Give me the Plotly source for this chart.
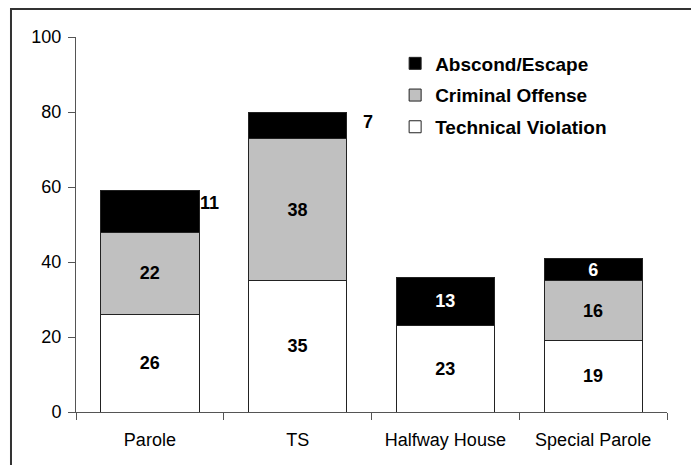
import plotly.graph_objects as go

categories = ["Parole", "TS", "Halfway House", "Special Parole"]
technical = [26, 35, 23, 19]
criminal = [22, 38, 0, 16]
abscond = [11, 7, 13, 6]
y_ticks = [0, 20, 40, 60, 80, 100]

# labels for Abscond/Escape drawn outside the bar for these categories
outside_abscond = {"Parole": (48, 8), "TS": (63, 3)}

FONT = "Liberation Sans, Arial, sans-serif"

def label_texts(vals, skip=()):
    return ["" if (v == 0 or c in skip) else f"<b>{v}</b>" for c, v in zip(categories, vals)]

fig = go.Figure()
series = [
    ("Technical Violation", technical, "#FFFFFF", "black", (), 3),
    ("Criminal Offense", criminal, "#C0C0C0", "black", (), 2),
    ("Abscond/Escape", abscond, "#000000", "white", tuple(outside_abscond.keys()), 1),
]
for name, vals, color, tcolor, skip, rank in series:
    fig.add_trace(go.Bar(
        name=name, x=categories, y=vals,
        marker=dict(color=color, line=dict(color="#222222", width=1)),
        text=label_texts(vals, skip), textposition="inside", textangle=0,
        insidetextanchor="middle", constraintext="none",
        textfont=dict(family=FONT, size=18, color=tcolor),
        legendgroup=name, legendrank=rank, width=0.665,
        hoverinfo="skip",
    ))

annotations = []
for i, c in enumerate(categories):
    if c in outside_abscond:
        xs, ys = outside_abscond[c]
        base = technical[i] + criminal[i]
        annotations.append(dict(
            x=c, y=base + abscond[i] / 2, xref="x", yref="y",
            text=f"<b>{abscond[i]}</b>", showarrow=False,
            xanchor="left", yanchor="middle", xshift=xs, yshift=ys,
            font=dict(family=FONT, size=18, color="black"),
        ))

fig.update_layout(
    width=699, height=465,
    margin=dict(l=68, r=40, t=29, b=61),
    paper_bgcolor="white", plot_bgcolor="white",
    barmode="stack", bargap=0.335,
    font=dict(family=FONT, size=18, color="black"),
    showlegend=True,
    legend=dict(
        x=0.54, y=0.98, xanchor="left", yanchor="top",
        traceorder="grouped", tracegroupgap=4,
        font=dict(family=FONT, size=19, color="black", weight="bold"),
        bgcolor="rgba(0,0,0,0)",
    ),
    annotations=annotations,
    shapes=[dict(
        type="rect", xref="paper", yref="paper",
        x0=-0.110, x1=1.044, y0=-0.3, y1=1.0747,
        line=dict(color="#333333", width=2), fillcolor="rgba(0,0,0,0)",
        layer="below",
    )],
)
fig.update_xaxes(
    type="category", range=[-0.5, 3.5], tickson="boundaries",
    ticks="outside", ticklen=7, tickcolor="#555555",
    showline=True, linecolor="#555555", linewidth=1,
    showgrid=False, zeroline=False, ticklabelstandoff=11,
    tickfont=dict(family=FONT, size=18, color="black"),
)
fig.update_yaxes(
    range=[0, 100], tickvals=y_ticks,
    ticks="outside", ticklen=7, tickcolor="#555555",
    showline=True, linecolor="#555555", linewidth=1,
    showgrid=False, zeroline=False, ticklabelstandoff=3,
    tickfont=dict(family=FONT, size=18, color="black"),
)

fig.write_html("out.html")
